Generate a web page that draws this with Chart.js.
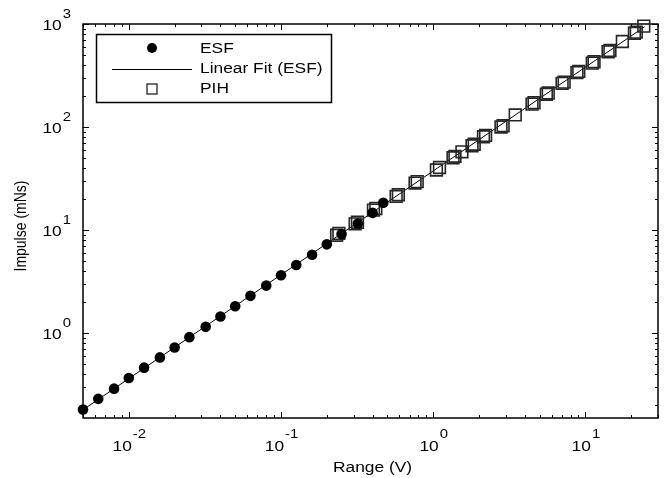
<!DOCTYPE html>
<html>
<head>
<meta charset="utf-8">
<script src="https://cdn.jsdelivr.net/npm/chart.js@4/dist/chart.umd.min.js"></script>
<style>
  html,body{margin:0;padding:0;background:#fff;}
  canvas{display:block;}
</style>
</head>
<body>
<canvas id="impulseChart" width="668" height="478"></canvas>
<script>
// ESF measurements (Range V, Impulse mNs)
const esfRange=[0.005,0.0063,0.008,0.01,0.0126,0.016,0.02,0.025,0.032,0.04,0.05,0.063,0.08,0.1,0.126,0.16,0.2,0.25,0.32,0.4,0.47];
const esfImpulse=[0.181,0.23,0.289,0.367,0.462,0.581,0.726,0.914,1.15,1.45,1.82,2.3,2.89,3.64,4.58,5.77,7.27,9.14,11.6,14.7,18.4];
// linear fit of ESF, end points
const fitRange=[0.005,24.5];
const fitImpulse=[0.18,940];
// PIH measurements
const pihRange=[0.232,0.24,0.307,0.318,0.405,0.42,0.571,0.59,0.76,0.785,1.05,1.1,1.35,1.39,1.545,1.8,1.86,2.14,2.21,2.79,2.88,3.46,4.46,4.6,5.54,5.7,7.03,7.25,8.8,9.05,11.1,11.4,14.1,14.5,17.5,21,21.6,24.2];
const pihImpulse=[8.9,9.3,11.5,11.9,15.6,16.2,21.2,22,28.6,29.5,38.3,40.5,50.3,52,57.5,65.8,68,80.5,83,100,103,131,167,172,208,214,265,273,337,347,417,430,538,553,676,813,835,955];
// axis ticks (decade exponents)
const xDecades=[-2,-1,0,1];
const yDecades=[0,1,2,3];

const FONT='"Liberation Sans", Arial, sans-serif';
const SX=1.24; // reference text is drawn a little wide

const pts=(xs,ys)=>xs.map((v,i)=>({x:v,y:ys[i]}));

function wideText(ctx,str,x,y,size,align){
  ctx.save();
  ctx.font=size+'px '+FONT;
  ctx.translate(x,y);
  ctx.scale(SX,1);
  ctx.textAlign=align||'left';
  ctx.fillText(str,0,0);
  ctx.restore();
}
function textW(ctx,str,size){
  ctx.save(); ctx.font=size+'px '+FONT;
  const w=ctx.measureText(str).width*SX;
  ctx.restore(); return w;
}

const frame={
  id:'frame',
  beforeDatasetsDraw(chart){
    const {ctx,chartArea:a,scales:{x,y}}=chart;
    ctx.save();
    ctx.strokeStyle='#000';ctx.lineWidth=1.5;
    ctx.strokeRect(a.left,a.top,a.right-a.left,a.bottom-a.top);
    ctx.lineWidth=1;
    ctx.beginPath();
    // x ticks, bottom and top, pointing in
    for(let d=-3;d<=1;d++){
      for(let m=1;m<=9;m++){
        const v=m*Math.pow(10,d);
        if(v<x.min||v>x.max) continue;
        const px=Math.round(x.getPixelForValue(v))+0.5, len=m===1?6:3;
        ctx.moveTo(px,a.bottom);ctx.lineTo(px,a.bottom-len);
        ctx.moveTo(px,a.top);ctx.lineTo(px,a.top+len);
      }
    }
    for(let d=-1;d<=3;d++){
      for(let m=1;m<=9;m++){
        const v=m*Math.pow(10,d);
        if(v<y.min||v>y.max) continue;
        const py=Math.round(y.getPixelForValue(v))+0.5, len=m===1?6:3;
        ctx.moveTo(a.left,py);ctx.lineTo(a.left+len,py);
        ctx.moveTo(a.right,py);ctx.lineTo(a.right-len,py);
      }
    }
    ctx.stroke();

    ctx.fillStyle='#000';
    ctx.textBaseline='alphabetic';
    xDecades.forEach(d=>{
      const px=x.getPixelForValue(Math.pow(10,d));
      const e=String(d), w1=textW(ctx,'10',14), w2=textW(ctx,e,12);
      const s=px-(w1+w2)/2;
      wideText(ctx,'10',s,451,14);
      wideText(ctx,e,s+w1+1,438,12);
    });
    yDecades.forEach(d=>{
      const py=y.getPixelForValue(Math.pow(10,d));
      const e=String(d), w2=textW(ctx,e,12);
      wideText(ctx,e,71,py-6,12,'right');
      wideText(ctx,'10',70-w2,py+6,14,'right');
    });
    wideText(ctx,'Range (V)',(a.left+a.right)/2+2,472,14,'center');
    ctx.save();
    ctx.translate(26,226);ctx.rotate(-Math.PI/2);ctx.scale(1,SX);
    ctx.font='14px '+FONT;ctx.textAlign='center';
    ctx.fillText('Impulse (mNs)',0,0);
    ctx.restore();
    ctx.restore();
  },
  afterDraw(chart){
    const {ctx}=chart;
    const ds=chart.data.datasets;
    ctx.save();
    ctx.fillStyle='#fff';
    ctx.fillRect(96,34,236,68);
    ctx.strokeStyle='#000';ctx.lineWidth=1.5;
    ctx.strokeRect(96.5,34.5,235,68);
    ctx.fillStyle='#000';
    // ESF
    ctx.beginPath();ctx.arc(152,48,5,0,Math.PI*2);ctx.fill();
    // fit line
    ctx.lineWidth=1;ctx.beginPath();ctx.moveTo(112,69.5);ctx.lineTo(192,69.5);ctx.stroke();
    // PIH
    ctx.strokeStyle='#222';ctx.lineWidth=1.3;ctx.strokeRect(147,84,10,10);
    ctx.textBaseline='middle';
    wideText(ctx,ds[0].label,200,49,14);
    wideText(ctx,ds[1].label,200,69,14);
    wideText(ctx,ds[2].label,200,89,14);
    ctx.restore();
  }
};

new Chart(document.getElementById('impulseChart'),{
  type:'scatter',
  data:{datasets:[
    {label:'ESF',data:pts(esfRange,esfImpulse),pointStyle:'circle',pointRadius:5.3,pointHoverRadius:5.3,
     backgroundColor:'#000',borderColor:'#000',borderWidth:0,clip:false,order:1},
    {label:'Linear Fit (ESF)',type:'line',data:pts(fitRange,fitImpulse),borderColor:'#000',borderWidth:1,
     pointRadius:0,fill:false,clip:false,order:3},
    {label:'PIH',data:pts(pihRange,pihImpulse),pointStyle:'rect',pointRadius:8.3,pointHoverRadius:8.3,
     backgroundColor:'rgba(0,0,0,0)',borderColor:'#262626',borderWidth:1.6,clip:false,order:2}
  ]},
  options:{
    responsive:false,animation:false,devicePixelRatio:1,
    layout:{padding:{left:83,top:24,right:10,bottom:60}},
    plugins:{legend:{display:false},tooltip:{enabled:false}},
    scales:{
      x:{type:'logarithmic',min:0.005,max:30,display:false},
      y:{type:'logarithmic',min:0.15,max:1000,display:false}
    }
  },
  plugins:[frame]
});
</script>
</body>
</html>
